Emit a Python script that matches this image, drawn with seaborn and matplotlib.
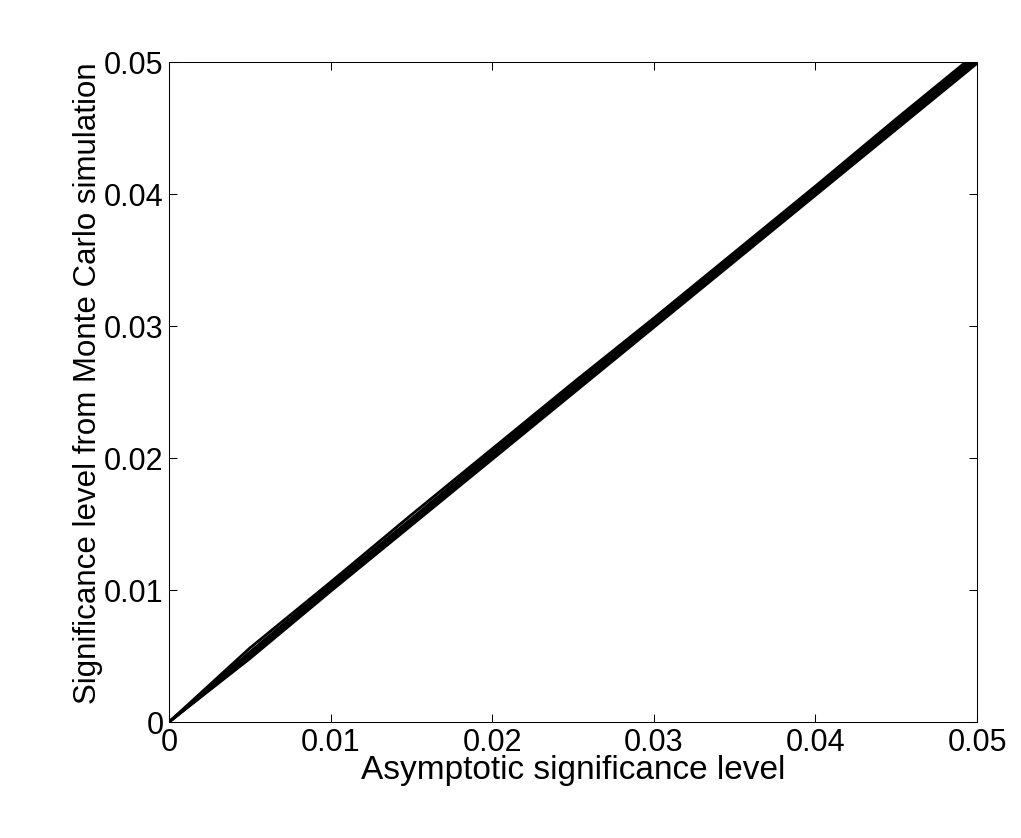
import pandas as pd
import matplotlib
matplotlib.use("Agg")
import matplotlib.pyplot as plt
import seaborn as sns

# Data: asymptotic level vs Monte Carlo level, several runs
asym = [0, 0.005, 0.01, 0.015, 0.02, 0.025, 0.03, 0.035, 0.04, 0.045, 0.05]
run1 = [0, 0.0056, 0.0106, 0.0157, 0.0207, 0.0257, 0.0306, 0.0356, 0.0406, 0.0457, 0.0507]
run2 = [0, 0.0053, 0.0104, 0.0154, 0.0205, 0.0255, 0.0305, 0.0355, 0.0405, 0.0455, 0.0505]
run3 = [0, 0.0051, 0.0102, 0.0152, 0.0203, 0.0253, 0.0303, 0.0353, 0.0403, 0.0453, 0.0503]
run4 = [0, 0.0050, 0.0101, 0.0151, 0.0201, 0.0252, 0.0302, 0.0352, 0.0402, 0.0452, 0.0502]
run5 = [0, 0.0049, 0.0100, 0.0150, 0.0200, 0.0250, 0.0300, 0.0350, 0.0400, 0.0450, 0.0500]
run6 = [0, 0.0048, 0.0099, 0.0149, 0.0199, 0.0249, 0.0299, 0.0349, 0.0399, 0.0449, 0.0499]
runs = [run1, run2, run3, run4, run5, run6]

tick_vals = [0, 0.01, 0.02, 0.03, 0.04, 0.05]
tick_labels = ["0", "0.01", "0.02", "0.03", "0.04", "0.05"]

# Long format table for seaborn
rows = []
for i, r in enumerate(runs):
    for a, m in zip(asym, r):
        rows.append({"run": i, "asym": a, "mc": m})
df = pd.DataFrame(rows)

sns.set_style("ticks")
plt.rcParams['font.family'] = ['Liberation Sans', 'DejaVu Sans']

fig = plt.figure(figsize=(10.21, 8.38), dpi=100)
ax = fig.add_axes([0.1655, 0.1384, 0.7915, 0.7876])

sns.lineplot(data=df, x="asym", y="mc", units="run", estimator=None,
             color="black", linewidth=2.0, ax=ax)

ax.set_xlim(0, 0.05)
ax.set_ylim(0, 0.05)
ax.set_xticks(tick_vals)
ax.set_xticklabels(tick_labels)
ax.set_yticks(tick_vals)
ax.set_yticklabels(tick_labels)
ax.tick_params(direction="in", top=True, right=True, length=6, width=0.75,
               labelsize=22, pad=4, colors="black")
for s in ax.spines.values():
    s.set_visible(True)
    s.set_linewidth(0.75)
    s.set_color("black")

ax.set_xlabel("Asymptotic significance level", fontsize=24, labelpad=-2, color="black")
ax.set_ylabel("Significance level from Monte Carlo simulation", fontsize=22.5,
              color="black")
ax.yaxis.set_label_coords(-0.082, 0.514)

fig.savefig("out.png", dpi=100, facecolor="white")
